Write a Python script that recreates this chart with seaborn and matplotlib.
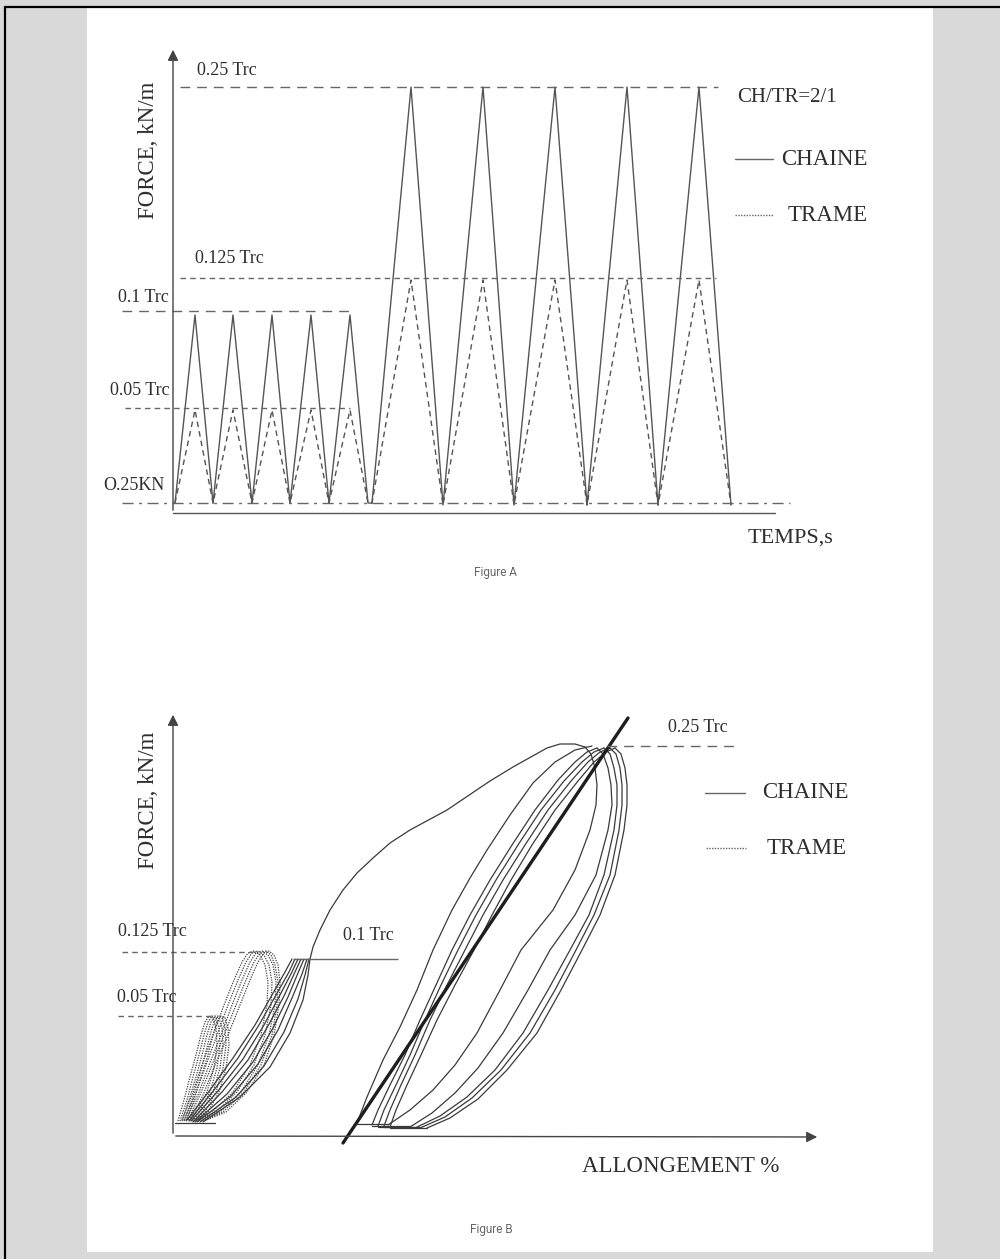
import matplotlib
matplotlib.use("Agg")
import matplotlib.pyplot as plt
import seaborn as sns
import pandas as pd
from matplotlib.patches import Rectangle
from matplotlib.lines import Line2D

sns.set_style("white")
plt.rcParams['font.family'] = ['Liberation Serif', 'DejaVu Serif']

INK = '#2e2e2e'
LINE_A = '#555555'
LINE_B = '#3a3a3a'

# ---------------- Figure A data (time, force) ----------------
a_time = [0.2, 2.2, 4.0, 6.0, 7.9, 9.9, 11.7, 13.8, 15.6, 17.7, 19.5,
          19.9, 23.8, 27.0, 31.0, 34.1, 38.2, 41.4, 45.4, 48.5, 52.6, 55.8]
a_chaine = [0.9, 19.7, 0.9, 19.7, 0.9, 19.7, 0.9, 19.7, 0.9, 19.7, 0.9,
            0.9, 42.5, 0.7, 42.5, 0.7, 42.5, 0.7, 42.5, 0.7, 42.5, 0.7]
a_trame = [0.9, 10.2, 0.9, 10.2, 0.9, 10.2, 0.9, 10.2, 0.9, 10.2, 0.9,
           0.9, 23.2, 0.7, 23.2, 0.7, 23.2, 0.7, 23.2, 0.7, 23.2, 0.7]

a_level_names = ["0.25 Trc", "0.125 Trc", "0.1 Trc", "0.05 Trc", "O.25KN"]
a_level_values = [42.5, 23.4, 20.1, 10.4, 0.9]
a_level_start = [0.7, 0.7, -5.1, -4.8, -5.1]
a_level_end = [54.5, 54.3, 17.7, 17.7, 61.7]

# ---------------- Figure B data (elongation, force) ----------------
# CHAINE, small cycles up to 0.1 Trc
b_c1_x = [1.4, 3.7, 6.0, 8.2, 9.9, 11.2, 11.9]
b_c1_y = [1.5, 4.5, 7.7, 11.0, 14.0, 16.3, 17.6]
b_c2_x = [1.6, 4.1, 6.5, 8.6, 10.3, 11.6, 12.2]
b_c2_y = [1.4, 4.5, 7.7, 11.0, 14.0, 16.3, 17.6]
b_c3_x = [1.8, 4.5, 7.0, 9.1, 10.7, 11.9, 12.5]
b_c3_y = [1.4, 4.4, 7.6, 11.0, 14.0, 16.3, 17.6]
b_c4_x = [2.0, 4.9, 7.5, 9.5, 11.1, 12.2, 12.8]
b_c4_y = [1.3, 4.3, 7.5, 10.9, 13.9, 16.3, 17.6]
b_c5_x = [2.2, 5.4, 8.0, 10.0, 11.5, 12.5, 13.1]
b_c5_y = [1.3, 4.1, 7.3, 10.7, 13.8, 16.2, 17.6]
b_c6_x = [2.4, 5.8, 8.5, 10.5, 11.9, 12.9, 13.4]
b_c6_y = [1.3, 3.9, 7.1, 10.5, 13.7, 16.1, 17.6]
b_c7_x = [2.7, 6.3, 9.1, 11.1, 12.5, 13.2, 13.6]
b_c7_y = [1.3, 3.8, 6.9, 10.3, 13.6, 16.0, 17.6]
b_c8_x = [3.0, 6.7, 9.7, 11.7, 13.0, 13.5, 13.7]
b_c8_y = [1.3, 3.8, 6.8, 10.2, 13.5, 16.0, 17.6]
b_base_x = [0.2, 4.2]
b_base_y = [1.2, 1.2]

# CHAINE, loading from 0.1 Trc to 0.25 Trc
b_load_x = [13.7, 14.0, 14.7, 15.7, 17.0, 18.4, 20.0, 21.7, 23.7, 27.4, 31.7, 34.0, 37.4, 38.7, 40.2, 41.2]
b_load_y = [17.6, 18.8, 20.5, 22.5, 24.5, 26.2, 27.7, 29.2, 30.5, 32.5, 35.4, 36.8, 38.7, 39.1, 39.1, 38.8]

# CHAINE, unloading branches at 0.25 Trc
b_u1_x = [41.2, 41.8, 42.2, 42.4, 42.3, 41.7, 40.2, 38.0, 34.8, 32.7, 30.4, 28.2, 26.0, 23.7, 21.5]
b_u1_y = [38.8, 38.1, 36.7, 35.0, 33.0, 30.5, 26.5, 22.5, 18.5, 14.5, 10.2, 7.0, 4.5, 2.5, 1.0]
b_u2_x = [42.4, 43.0, 43.5, 43.8, 43.9, 43.5, 42.3, 40.2, 37.7, 35.5, 33.0, 30.5, 28.2, 25.9, 23.7]
b_u2_y = [38.7, 38.1, 36.7, 35.0, 33.0, 30.5, 26.0, 22.0, 18.5, 14.5, 10.2, 6.7, 4.2, 2.2, 0.8]
b_u3_x = [43.1, 43.7, 44.1, 44.4, 44.4, 44.1, 43.1, 41.6, 39.7, 37.5, 35.0, 32.2, 29.4, 26.7, 24.2]
b_u3_y = [38.7, 38.1, 36.7, 35.0, 33.0, 30.5, 26.0, 22.0, 18.5, 14.5, 10.2, 6.5, 3.8, 1.9, 0.7]
b_u4_x = [43.7, 44.3, 44.7, 44.9, 44.9, 44.6, 43.7, 42.1, 40.3, 38.2, 35.7, 32.8, 29.9, 27.2, 24.7]
b_u4_y = [38.7, 38.1, 36.7, 35.0, 33.0, 30.5, 26.0, 22.0, 18.5, 14.5, 10.2, 6.5, 3.7, 1.8, 0.7]
b_u5_x = [44.2, 44.8, 45.2, 45.4, 45.4, 45.1, 44.2, 42.7, 40.9, 38.8, 36.4, 33.4, 30.5, 27.7, 25.4]
b_u5_y = [38.7, 38.1, 36.7, 35.0, 33.0, 30.5, 26.0, 22.0, 18.5, 14.5, 10.2, 6.5, 3.6, 1.7, 0.7]

# CHAINE, reloading branches at 0.25 Trc
b_r1_x = [18.4, 19.4, 21.0, 22.7, 24.4, 26.0, 27.9, 29.7, 31.4, 33.7, 36.0, 38.2, 40.2, 41.9]
b_r1_y = [1.2, 3.8, 7.5, 10.8, 14.5, 18.5, 22.5, 25.7, 28.5, 32.0, 35.2, 37.3, 38.5, 38.9]
b_r2_x = [19.9, 20.5, 21.7, 23.2, 24.7, 26.3, 27.9, 29.7, 31.7, 33.9, 36.2, 38.5, 40.2, 41.4, 42.4]
b_r2_y = [1.0, 2.5, 5.0, 8.0, 11.5, 15.0, 18.5, 22.0, 25.5, 29.0, 32.5, 35.5, 37.3, 38.3, 38.7]
b_r3_x = [20.5, 21.1, 22.3, 23.7, 25.2, 26.8, 28.5, 30.3, 32.3, 34.5, 36.8, 39.1, 40.9, 42.1, 43.1]
b_r3_y = [0.9, 2.5, 5.0, 8.0, 11.5, 15.0, 18.5, 22.0, 25.5, 29.0, 32.5, 35.4, 37.3, 38.3, 38.7]
b_r4_x = [21.1, 21.7, 22.8, 24.2, 25.7, 27.4, 29.2, 31.0, 33.0, 35.2, 37.5, 39.8, 41.5, 42.7, 43.7]
b_r4_y = [0.9, 2.5, 5.0, 8.0, 11.5, 15.0, 18.5, 22.0, 25.5, 29.0, 32.5, 35.4, 37.3, 38.3, 38.7]
b_r5_x = [21.7, 22.3, 23.4, 24.8, 26.4, 28.2, 30.1, 31.9, 33.8, 35.9, 38.2, 40.5, 42.1, 43.3, 44.2]
b_r5_y = [0.8, 2.5, 5.0, 8.0, 11.5, 15.0, 18.5, 22.0, 25.5, 29.0, 32.5, 35.4, 37.3, 38.3, 38.7]

# CHAINE, recovery at minimum force
b_f1_x, b_f1_y = [21.5, 18.4], [1.1, 1.1]
b_f2_x, b_f2_y = [23.7, 19.9], [0.9, 0.9]
b_f3_x, b_f3_y = [24.2, 20.5], [0.8, 0.8]
b_f4_x, b_f4_y = [24.7, 21.1], [0.8, 0.8]
b_f5_x, b_f5_y = [25.4, 21.7], [0.7, 0.7]

# secant modulus line
b_secant_x = [17.0, 45.5]
b_secant_y = [-0.8, 41.7]

# TRAME, cycles up to 0.125 Trc
b_t_y = [1.5, 4.0, 7.0, 10.0, 13.0, 15.5, 17.3, 18.2, 18.4, 18.0, 17.0, 15.3, 13.0, 10.0, 7.0, 4.3, 2.3, 1.4]
b_t1_x = [0.9, 1.9, 2.9, 4.0, 5.1, 6.1, 6.9, 7.5, 8.1, 8.7, 9.2, 9.5, 9.4, 8.8, 7.7, 6.0, 3.9, 1.9]
b_t2_x = [1.1, 2.2, 3.3, 4.4, 5.5, 6.5, 7.3, 7.9, 8.5, 9.1, 9.6, 9.9, 9.8, 9.2, 8.1, 6.4, 4.3, 2.2]
b_t3_x = [1.3, 2.5, 3.6, 4.8, 5.9, 6.9, 7.7, 8.3, 8.9, 9.5, 10.0, 10.3, 10.2, 9.6, 8.5, 6.8, 4.7, 2.5]
b_t4_x = [1.5, 2.7, 3.9, 5.1, 6.3, 7.3, 8.1, 8.7, 9.3, 9.8, 10.2, 10.5, 10.4, 9.9, 8.8, 7.1, 5.0, 2.8]
b_t5_x = [1.7, 3.0, 4.2, 5.5, 6.7, 7.7, 8.5, 9.1, 9.6, 10.1, 10.5, 10.7, 10.6, 10.1, 9.1, 7.4, 5.3, 3.1]

# TRAME, cycles up to 0.05 Trc
b_s_y = [1.4, 3.5, 5.8, 8.0, 10.0, 11.3, 11.9, 11.7, 10.7, 9.0, 6.7, 4.3, 2.3, 1.4]
b_s1_x = [0.5, 1.1, 1.7, 2.3, 2.8, 3.2, 3.6, 4.0, 4.3, 4.4, 4.1, 3.4, 2.3, 1.3]
b_s2_x = [0.7, 1.4, 2.0, 2.6, 3.1, 3.5, 3.9, 4.3, 4.6, 4.7, 4.4, 3.7, 2.6, 1.6]
b_s3_x = [0.9, 1.6, 2.3, 2.9, 3.4, 3.8, 4.2, 4.6, 4.9, 5.0, 4.7, 4.0, 2.9, 1.9]
b_s4_x = [1.1, 1.9, 2.6, 3.2, 3.7, 4.1, 4.5, 4.9, 5.2, 5.3, 5.0, 4.3, 3.2, 2.2]
b_s5_x = [1.3, 2.1, 2.8, 3.5, 4.0, 4.4, 4.8, 5.2, 5.5, 5.6, 5.3, 4.6, 3.5, 2.5]

b_level_names = ["0.125 Trc", "0.05 Trc", "0.1 Trc", "0.25 Trc"]
b_level_values = [18.3, 11.9, 17.6, 38.9]
b_level_start = [-5.1, -5.5, 12.0, 43.4]
b_level_end = [8.0, 4.2, 22.5, 56.4]


def long_df(curves):
    rows = []
    for cid, (xs, ys) in enumerate(curves):
        for i, (x, y) in enumerate(zip(xs, ys)):
            rows.append({"curve": cid, "order": i, "x": x, "y": y})
    return pd.DataFrame(rows)


# ---------------- figure and page ----------------
fig = plt.figure(figsize=(10, 12.59), dpi=100)
fig.patch.set_facecolor('#d9d9d9')
fig.patches.append(Rectangle((0.087, 0.0056), 0.846, 0.9889, transform=fig.transFigure,
                             facecolor='white', edgecolor='none', zorder=-10))
fig.lines.append(Line2D([0.005, 1.0], [1 - 7 / 1259, 1 - 7 / 1259], transform=fig.transFigure,
                        color='black', lw=1.6, zorder=-5))
fig.lines.append(Line2D([0.005, 0.005], [0.0, 1 - 7 / 1259], transform=fig.transFigure,
                        color='black', lw=1.6, zorder=-5))

axA = fig.add_axes([0.1, 1 - 590 / 1259, 0.8, 550 / 1259])
axB = fig.add_axes([0.1, 1 - 1245 / 1259, 0.8, 555 / 1259])
for ax in (axA, axB):
    ax.set_axis_off()
    ax.patch.set_alpha(0)
    ax.set_zorder(2)

# ---------------- Figure A ----------------
dfA = pd.DataFrame({"t": a_time, "chaine": a_chaine, "trame": a_trame})
sns.lineplot(data=dfA, x="t", y="chaine", sort=False, estimator=None, ax=axA,
             color=LINE_A, lw=1.0)
sns.lineplot(data=dfA, x="t", y="trame", sort=False, estimator=None, ax=axA,
             color=LINE_A, lw=1.0, linestyle=(0, (4, 3)))

a_styles = [(0, (7, 5)), (0, (4, 3)), (0, (7, 5)), (0, (4, 3)), (0, (8, 4, 2, 4))]
for name, val, x0, x1, ls in zip(a_level_names, a_level_values, a_level_start, a_level_end, a_styles):
    axA.hlines(val, x0, x1, colors='#666666', lw=1.0, linestyles=[ls])

# axes with arrows
axA.annotate('', xy=(0, 46.5), xytext=(0, -0.1),
             arrowprops=dict(arrowstyle='-|>', color='#444444', lw=1.0, mutation_scale=16))
axA.plot([0, 60.2], [-0.1, -0.1], color='#555555', lw=1.0)

fs_small = 13
axA.text(2.4, 44.2, "0.25 Trc", fontsize=fs_small, color=INK, va='center', ha='left')
axA.text(2.2, 25.4, "0.125 Trc", fontsize=fs_small, color=INK, va='center', ha='left')
axA.text(-5.5, 21.5, "0.1 Trc", fontsize=fs_small, color=INK, va='center', ha='left')
axA.text(-6.3, 12.2, "0.05 Trc", fontsize=fs_small, color=INK, va='center', ha='left')
axA.text(-7.0, 2.7, "O.25KN", fontsize=fs_small, color=INK, va='center', ha='left')
axA.text(56.4, 41.5, "CH/TR=2/1", fontsize=15, color=INK, va='center', ha='left')
axA.plot([56.2, 60.0], [35.3, 35.3], color='#666666', lw=1.0)
axA.text(60.8, 35.3, "CHAINE", fontsize=16.5, color=INK, va='center', ha='left')
axA.plot([56.2, 60.1], [29.7, 29.7], color='#666666', lw=1.0, linestyle=(0, (1, 1)))
axA.text(61.5, 29.7, "TRAME", fontsize=16.5, color=INK, va='center', ha='left')
axA.text(57.5, -2.6, "TEMPS,s", fontsize=16, color=INK, va='center', ha='left')
axA.text(-2.5, 36.2, "FORCE, kN/m", fontsize=16.5, color=INK, va='center', ha='center', rotation=90)
axA.text(32.2, -6.0, "Figure A", fontsize=8.5, color='#666666', va='center', ha='center',
         family=['Roboto', 'DejaVu Sans'])

# ---------------- Figure B ----------------
chaine_curves = [
    (b_c1_x, b_c1_y), (b_c2_x, b_c2_y), (b_c3_x, b_c3_y), (b_c4_x, b_c4_y),
    (b_c5_x, b_c5_y), (b_c6_x, b_c6_y), (b_c7_x, b_c7_y), (b_c8_x, b_c8_y),
    (b_base_x, b_base_y), (b_load_x, b_load_y),
    (b_u1_x, b_u1_y), (b_u2_x, b_u2_y), (b_u3_x, b_u3_y), (b_u4_x, b_u4_y), (b_u5_x, b_u5_y),
    (b_r1_x, b_r1_y), (b_r2_x, b_r2_y), (b_r3_x, b_r3_y), (b_r4_x, b_r4_y), (b_r5_x, b_r5_y),
    (b_f1_x, b_f1_y), (b_f2_x, b_f2_y), (b_f3_x, b_f3_y), (b_f4_x, b_f4_y), (b_f5_x, b_f5_y),
]
trame_curves = [
    (b_t1_x, b_t_y), (b_t2_x, b_t_y), (b_t3_x, b_t_y), (b_t4_x, b_t_y), (b_t5_x, b_t_y),
    (b_s1_x, b_s_y), (b_s2_x, b_s_y), (b_s3_x, b_s_y), (b_s4_x, b_s_y), (b_s5_x, b_s_y),
]
dfC = long_df(chaine_curves)
dfT = long_df(trame_curves)
sns.lineplot(data=dfT, x="x", y="y", units="curve", estimator=None, sort=False, ax=axB,
             color='#444444', lw=0.9, linestyle=(0, (1, 1)))
sns.lineplot(data=dfC, x="x", y="y", units="curve", estimator=None, sort=False, ax=axB,
             color=LINE_B, lw=0.9)
dfS = pd.DataFrame({"x": b_secant_x, "y": b_secant_y})
sns.lineplot(data=dfS, x="x", y="y", sort=False, estimator=None, ax=axB,
             color='#1e1e1e', lw=2.4)

b_styles = [(0, (4, 3)), (0, (4, 3)), '-', (0, (7, 5))]
for name, val, x0, x1, ls in zip(b_level_names, b_level_values, b_level_start, b_level_end, b_styles):
    axB.hlines(val, x0, x1, colors='#666666', lw=1.0, linestyles=[ls])

axB.annotate('', xy=(0, 42.3), xytext=(0, -0.1),
             arrowprops=dict(arrowstyle='-|>', color='#444444', lw=1.0, mutation_scale=16))
axB.annotate('', xy=(64.7, -0.2), xytext=(0, -0.1),
             arrowprops=dict(arrowstyle='-|>', color='#444444', lw=1.0, mutation_scale=16))

axB.text(-5.5, 20.3, "0.125 Trc", fontsize=fs_small, color=INK, va='center', ha='left')
axB.text(-5.6, 13.7, "0.05 Trc", fontsize=fs_small, color=INK, va='center', ha='left')
axB.text(17.0, 20.0, "0.1 Trc", fontsize=fs_small, color=INK, va='center', ha='left')
axB.text(49.5, 40.8, "0.25 Trc", fontsize=fs_small, color=INK, va='center', ha='left')
axB.text(-2.5, 33.5, "FORCE, kN/m", fontsize=16.5, color=INK, va='center', ha='center', rotation=90)
axB.plot([53.2, 57.2], [34.2, 34.2], color='#666666', lw=1.0)
axB.text(58.9, 34.2, "CHAINE", fontsize=16.5, color=INK, va='center', ha='left')
axB.plot([53.3, 57.3], [28.7, 28.7], color='#666666', lw=1.0, linestyle=(0, (1, 1)))
axB.text(59.4, 28.7, "TRAME", fontsize=16.5, color=INK, va='center', ha='left')
axB.text(50.8, -3.1, "ALLONGEMENT %", fontsize=16.5, color=INK, va='center', ha='center')
axB.text(31.8, -9.5, "Figure B", fontsize=8.5, color='#666666', va='center', ha='center',
         family=['Roboto', 'DejaVu Sans'])

for ax in (axA, axB):
    ax.set_xlabel('')
    ax.set_ylabel('')

# limits set last so that seaborn autoscaling does not change them
axA.set_xlim(-7.3, 72.7)
axA.set_ylim(-7.8, 47.2)
axB.set_xlim(-7.3, 72.7)
axB.set_ylim(-11.0, 44.5)

fig.savefig("out.png", dpi=100, facecolor=fig.get_facecolor())
